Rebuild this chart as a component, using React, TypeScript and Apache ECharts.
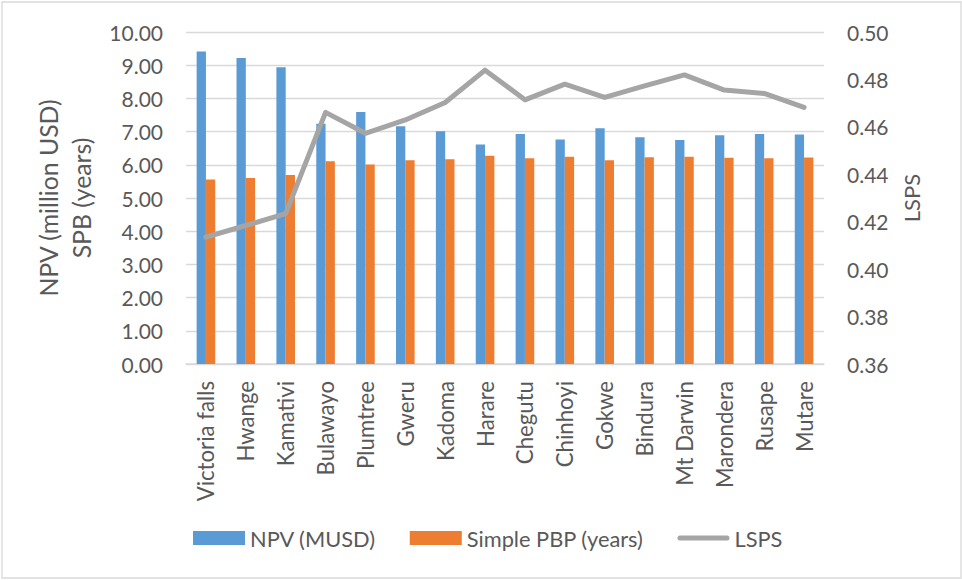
import React, { useEffect, useRef } from "react";
import * as echarts from "echarts";

const categories = [
  "Victoria falls", "Hwange", "Kamativi", "Bulawayo", "Plumtree", "Gweru", "Kadoma", "Harare",
  "Chegutu", "Chinhoyi", "Gokwe", "Bindura", "Mt Darwin", "Marondera", "Rusape", "Mutare",
];
const npv = [9.41, 9.22, 8.94, 7.24, 7.59, 7.16, 7.01, 6.61, 6.93, 6.76, 7.1, 6.83, 6.75, 6.89, 6.93, 6.91];
const pbp = [5.56, 5.6, 5.69, 6.11, 6.01, 6.14, 6.17, 6.27, 6.2, 6.24, 6.14, 6.23, 6.24, 6.21, 6.2, 6.22];
const lsps = [0.4135, 0.4184, 0.4234, 0.4661, 0.4573, 0.4629, 0.4703, 0.4839, 0.4714, 0.478, 0.4724, 0.4773, 0.4819, 0.4755, 0.4741, 0.4682];

const FONT = "Lato";
const TXT = "#595959";

export default function App() {
  const ref = useRef<HTMLDivElement>(null);
  useEffect(() => {
    document.body.style.margin = "0";
    const chart = echarts.init(ref.current!, null, { renderer: "svg" });
    chart.setOption({
      animation: false,
      textStyle: { fontFamily: FONT, color: TXT },
      graphic: [
        {
          type: "rect",
          shape: { x: 2, y: 2, width: 959, height: 576 },
          style: { fill: "none", stroke: "#d9d9d9", lineWidth: 1.3 },
          silent: true,
        },
      ],
      grid: { left: 186, right: 138, top: 32, bottom: 216 },
      legend: {
        left: 193,
        top: 527,
        padding: 0,
        itemWidth: 52,
        itemHeight: 14,
        itemGap: 34,
        textStyle: { fontFamily: FONT, fontSize: 21.8, color: TXT },
        data: [
          { name: "NPV (MUSD)", icon: "rect" },
          { name: "Simple PBP (years)", icon: "rect" },
          {
            name: "LSPS",
            icon: "path://M2.5,0 H49.5 A2.5,2.5 0 0 1 49.5,5 H2.5 A2.5,2.5 0 0 1 2.5,0 Z",
          },
        ],
      },
      xAxis: {
        type: "category",
        data: categories,
        axisTick: { show: false },
        axisLine: { lineStyle: { color: "#d9d9d9", width: 1.5 } },
        axisLabel: { rotate: 90, margin: 17, fontFamily: FONT, fontSize: 22.2, color: TXT, interval: 0 },
      },
      yAxis: [
        {
          type: "value",
          min: 0,
          max: 10,
          interval: 1,
          name: "NPV (million USD)\nSPB (years)",
          nameLocation: "middle",
          nameGap: 82,
          nameTextStyle: { fontFamily: FONT, fontSize: 24.8, color: TXT, lineHeight: 33 },
          axisLabel: { formatter: (v: number) => v.toFixed(2), margin: 23, fontFamily: FONT, fontSize: 21, color: TXT },
          axisLine: { show: false },
          axisTick: { show: false },
          splitLine: { lineStyle: { color: "#d9d9d9", width: 1.3 } },
        },
        {
          type: "value",
          min: 0.36,
          max: 0.5,
          interval: 0.02,
          name: "LSPS",
          nameLocation: "middle",
          nameGap: 76,
          nameTextStyle: { fontFamily: FONT, fontSize: 22, color: TXT },
          axisLabel: { formatter: (v: number) => v.toFixed(2), margin: 23, fontFamily: FONT, fontSize: 21, color: TXT },
          axisLine: { show: false },
          axisTick: { show: false },
          splitLine: { show: false },
        },
      ],
      series: [
        {
          name: "NPV (MUSD)",
          type: "bar",
          data: npv,
          barWidth: 9.3,
          barGap: "0%",
          itemStyle: { color: "#5b9bd5" },
        },
        {
          name: "Simple PBP (years)",
          type: "bar",
          data: pbp,
          barWidth: 9.3,
          barGap: "0%",
          itemStyle: { color: "#ed7d31" },
        },
        {
          name: "LSPS",
          type: "line",
          yAxisIndex: 1,
          data: lsps,
          symbol: "none",
          itemStyle: { color: "#a5a5a5" },
          lineStyle: { color: "#a5a5a5", width: 5, cap: "round", join: "round" },
        },
      ],
    });
    return () => chart.dispose();
  }, []);
  return <div ref={ref} style={{ width: 962, height: 580 }} />;
}
